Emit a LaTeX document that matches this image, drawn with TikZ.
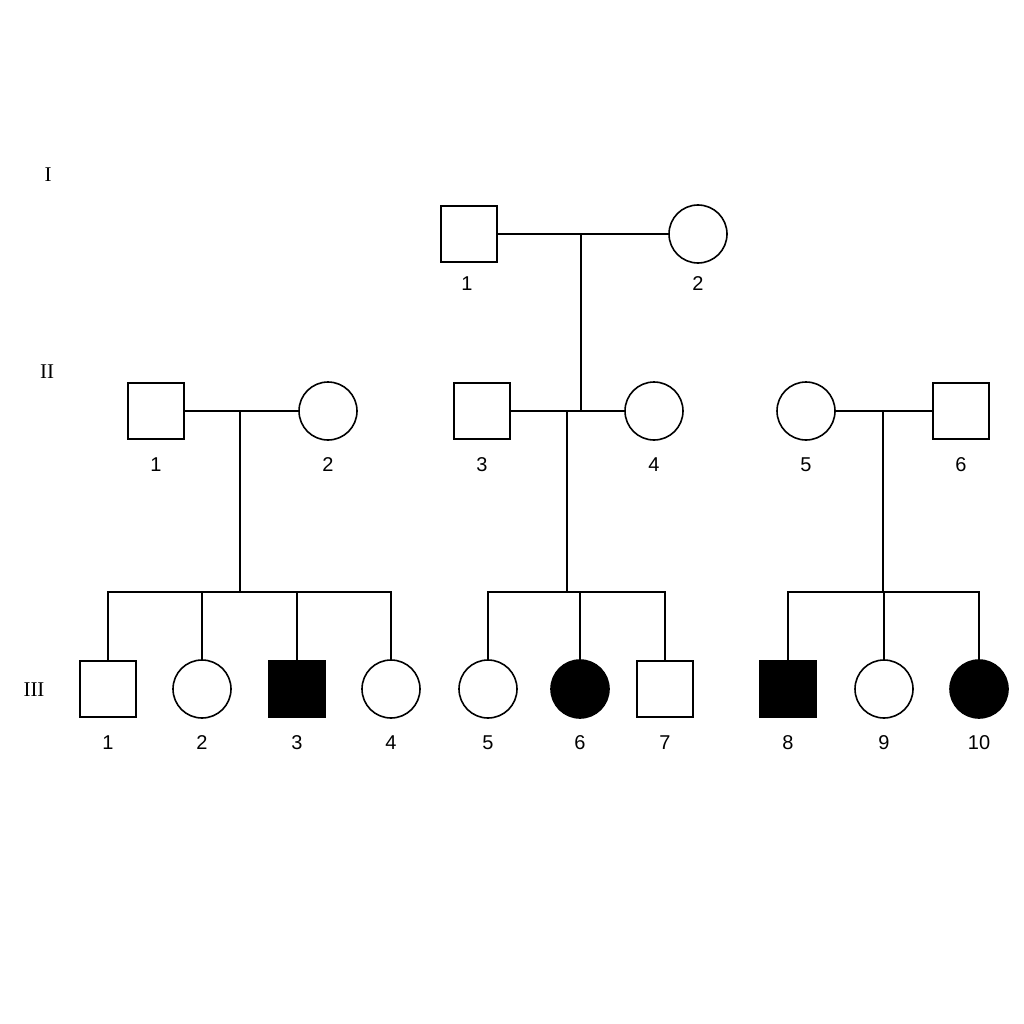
\documentclass[tikz,border=0pt]{standalone}
\usepackage{fontspec}
\setmainfont{Liberation Sans}
\newfontfamily\romfont{Liberation Serif}
\begin{document}
\begin{tikzpicture}[x=1pt,y=-1pt,line width=1.6pt,
  male/.style={draw,rectangle,minimum size=56pt,inner sep=0pt},
  female/.style={draw,circle,minimum size=58pt,inner sep=0pt},
  aff/.style={fill=black},
  lab/.style={font=\fontsize{20}{20}\selectfont},
  gen/.style={font=\romfont\fontsize{21}{21}\selectfont}]
\useasboundingbox (0,0) rectangle (1024,1024);
\node[gen] (gI) at (48,175) {I};
\node[gen] (gII) at (47,372) {II};
\node[gen] (gIII) at (34,690) {III};
% Gen I
\node[male] (a1) at (469,234) {};
\node[female] (a2) at (698,234) {};
\node[lab] at (467,284) {1};
\node[lab] at (698,284) {2};
% Gen II
\node[male] (b1) at (156,411) {};
\node[female] (b2) at (328,411) {};
\node[male] (b3) at (482,411) {};
\node[female] (b4) at (654,411) {};
\node[female] (b5) at (806,411) {};
\node[male] (b6) at (961,411) {};
\foreach \n/\x in {1/156,2/328,3/482,4/654,5/806,6/961} \node[lab] at (\x,465) {\n};
% Gen III
\node[male] (c1) at (108,689) {};
\node[female] (c2) at (202,689) {};
\node[male,aff] (c3) at (297,689) {};
\node[female] (c4) at (391,689) {};
\node[female] (c5) at (488,689) {};
\node[female,aff] (c6) at (580,689) {};
\node[male] (c7) at (665,689) {};
\node[male,aff] (c8) at (788,689) {};
\node[female] (c9) at (884,689) {};
\node[female,aff] (c10) at (979,689) {};
\foreach \n/\x in {1/108,2/202,3/297,4/391,5/488,6/580,7/665,8/788,9/884,10/979} \node[lab] at (\x,743) {\n};
% marriages
\draw (a1) -- (a2);
\draw (b1) -- (b2);
\draw (b3) -- (b4);
\draw (b5) -- (b6);
% descent
\coordinate (m1) at (581,234);
\coordinate (m1b) at (581,411);
\draw (m1) -- (m1b);
\coordinate (m2) at (240,411); \coordinate (s2) at (240,592);
\coordinate (m3) at (567,411); \coordinate (s3) at (567,592);
\coordinate (m4) at (883,411); \coordinate (s4) at (883,592);
\draw (m2) -- (s2); \draw (m3) -- (s3); \draw (m4) -- (s4);
\draw (c1.north) |- (s2) -| (c4.north);
\draw (c2.north) -- ++(0,-68); \draw (c3.north) -- ++(0,-68);
\draw (c5.north) |- (s3) -| (c7.north);
\draw (c6.north) -- ++(0,-68);
\draw (c8.north) |- (s4) -| (c10.north);
\draw (c9.north) -- ++(0,-68);
\end{tikzpicture}
\end{document}
